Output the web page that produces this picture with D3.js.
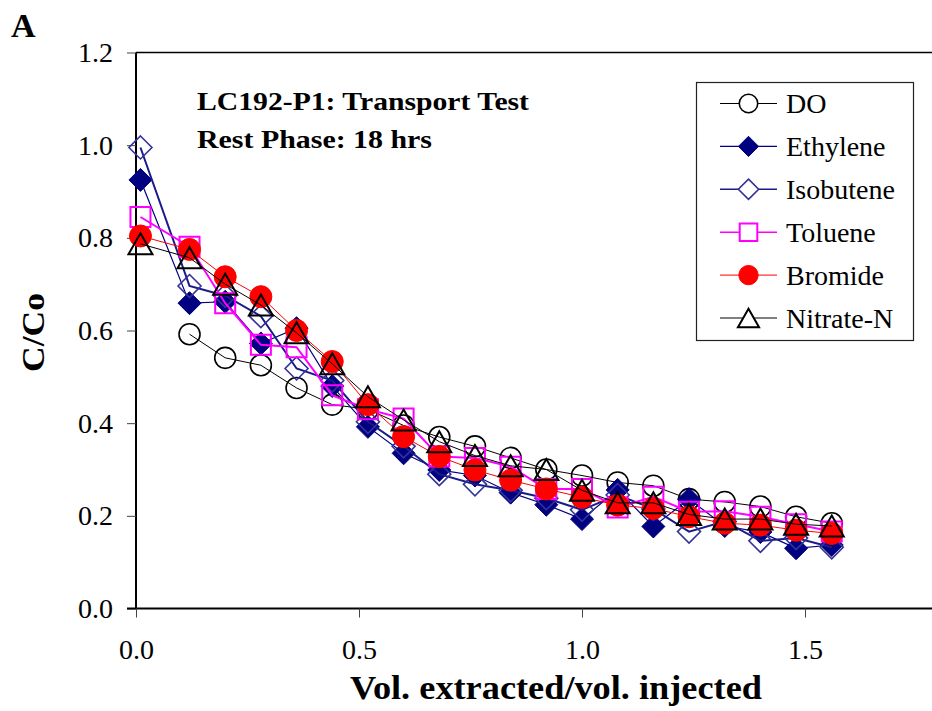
<!DOCTYPE html>
<head>
<meta charset="utf-8">
<title>LC192-P1 Transport Test</title>
<script src="https://d3js.org/d3.v7.min.js"></script>
<style>
  body { margin: 0; background: #fff; }
  svg { display: block; font-family: "Liberation Serif", "Times New Roman", serif; }
</style>
</head>
<body>
<div id="chart"></div>
<script>
//---------------------------- DATA ----------------------------//
const volRatio = [0.01, 0.12, 0.20, 0.28, 0.36, 0.44, 0.52, 0.60, 0.68, 0.76,
                  0.84, 0.92, 1.00, 1.08, 1.16, 1.24, 1.32, 1.40, 1.48, 1.56];

const doVals       = [null, 0.592, 0.541, 0.525, 0.476, 0.440, 0.430, 0.395, 0.370, 0.350,
                      0.325, 0.300, 0.287, 0.272, 0.265, 0.236, 0.230, 0.220, 0.198, 0.184];
const ethyleneVals = [0.925, 0.659, 0.662, 0.572, 0.605, 0.480, 0.392, 0.335, 0.299, 0.287,
                      0.250, 0.224, 0.193, 0.256, 0.177, 0.236, 0.178, 0.165, 0.130, 0.137];
const isobuteneVals= [0.995, 0.696, 0.675, 0.631, 0.518, 0.492, 0.403, 0.350, 0.290, 0.268,
                      0.255, 0.238, 0.213, 0.245, 0.215, 0.166, 0.188, 0.146, 0.152, 0.132];
const tolueneVals  = [0.845, 0.781, 0.659, 0.569, 0.564, 0.460, 0.430, 0.410, 0.328, 0.325,
                      0.306, 0.258, 0.258, 0.218, 0.241, 0.209, 0.210, 0.198, 0.182, 0.166];
const bromideVals  = [0.804, 0.775, 0.716, 0.673, 0.600, 0.533, 0.440, 0.371, 0.328, 0.299,
                      0.277, 0.258, 0.240, 0.223, 0.216, 0.198, 0.184, 0.180, 0.169, 0.162];
const nitrateVals  = [0.787, 0.757, 0.700, 0.655, 0.595, 0.528, 0.457, 0.407, 0.360, 0.330,
                      0.308, 0.300, 0.255, 0.228, 0.228, 0.203, 0.193, 0.193, 0.182, 0.178];

const seriesNames = ["DO", "Ethylene", "Isobutene", "Toluene", "Bromide", "Nitrate-N"];
const xTicks = [0, 0.5, 1.0, 1.5];
const yTicks = [0, 0.2, 0.4, 0.6, 0.8, 1.0, 1.2];

//--------------------------- SETUP ----------------------------//
const W = 932, H = 711;
const svg = d3.select("#chart").append("svg")
    .attr("width", W).attr("height", H);

const x = d3.scaleLinear().domain([0, 1.8]).range([136, 938.8]);
const y = d3.scaleLinear().domain([0, 1.2]).range([608.5, 52.5]);

// marker shapes, s = scale factor (legend uses a bit smaller)
function markerPath(type, s) {
  if (type === "circle") return d3.symbol(d3.symbolCircle, Math.PI * Math.pow(10.5 * s, 2))();
  if (type === "bigcircle") return d3.symbol(d3.symbolCircle, Math.PI * Math.pow(11 * s, 2))();
  if (type === "diamond") {
    const r = 11.5 * s;
    return "M0," + (-r) + "L" + r + ",0L0," + r + "L" + (-r) + ",0Z";
  }
  if (type === "square") {
    const h = 10 * s;
    return "M" + (-h) + "," + (-h) + "H" + h + "V" + h + "H" + (-h) + "Z";
  }
  if (type === "triangle") {
    const w = 12 * s, h = 10.5 * s;
    return "M0," + (-h) + "L" + w + "," + h + "L" + (-w) + "," + h + "Z";
  }
}

const series = [
  {name: seriesNames[0], vals: doVals,        line: "#000",    lw: 1,   mk: "circle",    fill: "none",    stroke: "#000",    sw: 1.6},
  {name: seriesNames[1], vals: ethyleneVals,  line: "#000080", lw: 1.2, mk: "diamond",   fill: "#000080", stroke: "#000080", sw: 1},
  {name: seriesNames[2], vals: isobuteneVals, line: "#1a1a88", lw: 2,   mk: "diamond",   fill: "none",    stroke: "#333399", sw: 1.6},
  {name: seriesNames[3], vals: tolueneVals,   line: "#ff00ff", lw: 2,   mk: "square",    fill: "none",    stroke: "#ff00ff", sw: 2},
  {name: seriesNames[4], vals: bromideVals,   line: "#ff0000", lw: 1,   mk: "bigcircle", fill: "#ff0000", stroke: "#ff0000", sw: 1},
  {name: seriesNames[5], vals: nitrateVals,   line: "#000",    lw: 1,   mk: "triangle",  fill: "none",    stroke: "#000",    sw: 2}
];

//---------------------------- AXES ----------------------------//
// top border of plot area
svg.append("line")
    .attr("x1", x(0)).attr("x2", W)
    .attr("y1", y(1.2)).attr("y2", y(1.2))
    .attr("stroke", "#000").attr("stroke-width", 1.5);

const yAxis = svg.append("g")
    .attr("transform", "translate(" + x(0) + ",0)")
    .call(d3.axisLeft(y).tickValues(yTicks).tickFormat(d3.format(".1f"))
          .tickSize(9).tickPadding(14));
yAxis.select(".domain").attr("stroke-width", 2).attr("d", "M0," + y(1.2) + "V" + y(0));
yAxis.selectAll(".tick line").attr("stroke", "#444");
yAxis.selectAll("text").attr("font-size", 28).attr("font-family", "Liberation Serif").attr("fill", "#000");

const xAxis = svg.append("g")
    .attr("transform", "translate(0," + y(0) + ")")
    .call(d3.axisBottom(x).tickValues(xTicks).tickFormat(d3.format(".1f"))
          .tickSize(9));
xAxis.select(".domain").attr("stroke-width", 2).attr("d", "M" + (x(0) - 9) + ",0H" + W);
xAxis.selectAll(".tick line").attr("stroke", "#444");
xAxis.selectAll("text").attr("font-size", 28).attr("font-family", "Liberation Serif")
    .attr("fill", "#000").attr("y", 50).attr("dy", 0);

//--------------------------- SERIES ---------------------------//
const line = d3.line()
    .defined(d => d.v != null)
    .x(d => x(d.x)).y(d => y(d.v));

series.forEach(function(s) {
  const pts = volRatio.map((xv, i) => ({x: xv, v: s.vals[i]}));
  const g = svg.append("g");
  g.append("path")
      .datum(pts)
      .attr("d", line)
      .attr("fill", "none")
      .attr("stroke", s.line)
      .attr("stroke-width", s.lw);
  g.selectAll("path.mk")
      .data(pts.filter(d => d.v != null))
      .join("path")
      .attr("class", "mk")
      .attr("transform", d => "translate(" + x(d.x) + "," + y(d.v) + ")")
      .attr("d", markerPath(s.mk, 1))
      .attr("fill", s.fill)
      .attr("stroke", s.stroke)
      .attr("stroke-width", s.sw);
});

//--------------------------- LEGEND ---------------------------//
const legend = svg.append("g");
legend.append("rect")
    .attr("x", 696.5).attr("y", 82.5).attr("width", 217).attr("height", 258)
    .attr("fill", "#fff").attr("stroke", "#222").attr("stroke-width", 1.2);

series.forEach(function(s, i) {
  const ly = 103.5 + i * 42.9;
  const row = legend.append("g").attr("transform", "translate(0," + ly + ")");
  row.append("line").attr("x1", 720).attr("x2", 777).attr("y1", 0).attr("y2", 0)
      .attr("stroke", s.line).attr("stroke-width", Math.min(s.lw, 1.5));
  row.append("path").attr("transform", "translate(748.5,0)")
      .attr("d", markerPath(s.mk, 0.88))
      .attr("fill", s.fill === "none" ? "#fff" : s.fill)
      .attr("stroke", s.stroke).attr("stroke-width", s.sw);
  row.append("text").attr("x", 786).attr("y", 9.5)
      .attr("font-size", 28).text(s.name);
});

//--------------------------- LABELS ---------------------------//
svg.append("text").attr("x", 11).attr("y", 37)
    .attr("font-size", 34).attr("font-weight", "bold").text("A");

svg.append("text").attr("x", 197).attr("y", 109.5)
    .attr("font-size", 26).attr("font-weight", "bold")
    .attr("textLength", 332).attr("lengthAdjust", "spacingAndGlyphs")
    .text("LC192-P1: Transport Test");
svg.append("text").attr("x", 197).attr("y", 148)
    .attr("font-size", 26).attr("font-weight", "bold")
    .attr("textLength", 235).attr("lengthAdjust", "spacingAndGlyphs")
    .text("Rest Phase: 18 hrs");

svg.append("text")
    .attr("transform", "translate(44,332.5) rotate(-90)")
    .attr("text-anchor", "middle")
    .attr("font-size", 32).attr("font-weight", "bold")
    .attr("textLength", 79).attr("lengthAdjust", "spacingAndGlyphs")
    .text("C/Co");

svg.append("text")
    .attr("x", 556).attr("y", 699)
    .attr("text-anchor", "middle")
    .attr("font-size", 33).attr("font-weight", "bold")
    .attr("textLength", 412).attr("lengthAdjust", "spacingAndGlyphs")
    .text("Vol. extracted/vol. injected");
</script>
</body>
